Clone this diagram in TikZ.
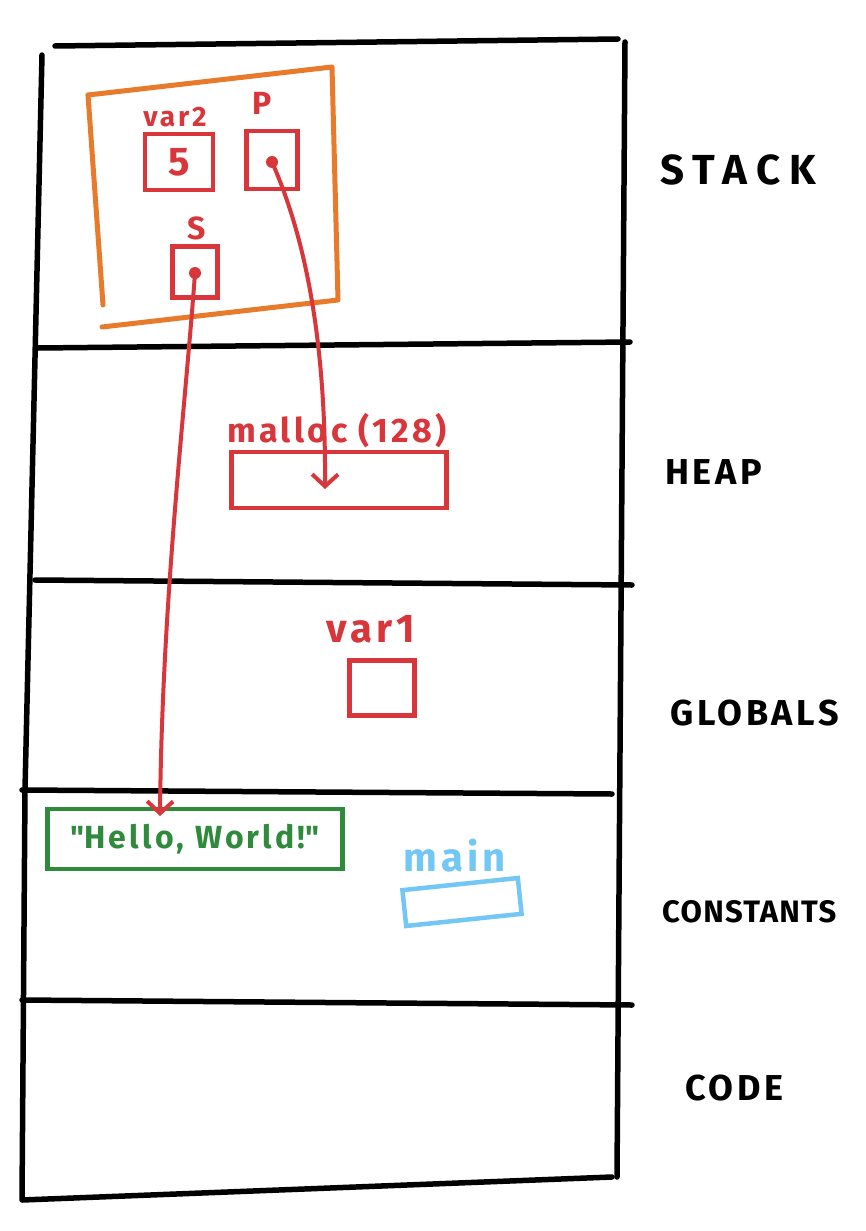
\documentclass[tikz,border=0pt]{standalone}
\usepackage{fontspec}
\setmainfont{Fira Sans}
\newfontfamily\handfont[LetterSpace=10]{Fira Sans}
\newfontfamily\widefont[LetterSpace=22]{Fira Sans}
\newfontfamily\tightfont[LetterSpace=4]{Fira Sans}
\usetikzlibrary{arrows.meta}
\definecolor{inkred}{HTML}{D8363B}
\definecolor{inkorange}{HTML}{E87A2C}
\definecolor{inkgreen}{HTML}{2F8A3C}
\definecolor{inkblue}{HTML}{72C7F4}
\begin{document}
\begin{tikzpicture}[x=1pt,y=-1pt,
  frame/.style={line width=5.5pt,line cap=round,line join=round,black},
  region/.style={anchor=west,inner sep=0pt,font=\handfont\bfseries\fontsize{36}{36}\selectfont},
  cell/.style={draw=inkred,line width=4.5pt,inner sep=0pt},
  redtext/.style={text=inkred,inner sep=0pt},
  hand/.style={font=\handfont\bfseries\fontsize{#1}{#1}\selectfont},
  ptr/.style={draw=inkred,line width=4pt,line cap=round,
    -{Straight Barb[length=12pt,width=26pt,line width=4pt]}},
  ]
\path[use as bounding box] (0,0) rectangle (865,1231);
\fill[white] (0,0) rectangle (865,1231);

% memory layout frame
\draw[frame] (55,46) -- (618,39);
\draw[frame] (625,42) -- (617,1177);
\draw[frame] (42,55) -- (25,790) -- (22,1200) -- (612,1177);
\draw[frame] (38,348) -- (630,342);
\draw[frame] (35,580) -- (632,585);
\draw[frame] (22,790) -- (612,794);
\draw[frame] (22,1000) -- (632,1005);

% segment names
\node[region,font=\widefont\bfseries\fontsize{42}{42}\selectfont] (stack) at (660,170) {STACK};
\node[region] (heap) at (665,472) {HEAP};
\node[region] (globals) at (670,713) {GLOBALS};
\node[region,font=\tightfont\bfseries\fontsize{31}{31}\selectfont] (consts) at (662,912) {CONSTANTS};
\node[region] (code) at (685,1088) {CODE};

% stack frame of the function
\draw[draw=inkorange,line width=5pt,line join=round,line cap=round]
  (88,95) -- (332,67) -- (338,300) -- (102,327);
\draw[draw=inkorange,line width=5pt,line cap=round] (88,95) -- (103,305);

\node[cell,minimum width=68pt,minimum height=56pt,text=inkred,hand=40] (var2) at (179,162) {5};
\node[redtext,hand=28] (var2lbl) at (175,117) {var2};
\node[cell,minimum width=51pt,minimum height=58pt] (p) at (272,160) {};
\node[redtext,hand=32] (plbl) at (262,103) {P};
\node[cell,minimum width=45pt,minimum height=51pt] (s) at (195,272) {};
\node[redtext,hand=32] (slbl) at (197,228) {S};

\coordinate (pdot) at (272,162);
\coordinate (sdot) at (195,273);
\fill[inkred] (pdot) circle (6pt);
\fill[inkred] (sdot) circle (6pt);

% heap block
\node[redtext,hand=34] (malloclbl) at (337,431) {malloc (128)};
\node[cell,minimum width=215pt,minimum height=56pt] (block) at (339,480) {};
\coordinate (pend) at (325,489);

% global variable
\node[redtext,hand=40] (var1lbl) at (371,629) {var1};
\node[cell,minimum width=65pt,minimum height=55pt] (var1) at (382,688) {};

% constants
\node[draw=inkgreen,line width=4.5pt,minimum width=295pt,minimum height=60pt,
  text=inkgreen,hand=32] (hello) at (195,839)
  {\textquotedbl Hello, World!\textquotedbl};
\coordinate (send) at (160,816);
\node[text=inkblue,inner sep=0pt,hand=40] (mainlbl) at (455,856) {main};
\node[draw=inkblue,line width=4.5pt,minimum width=116pt,minimum height=36pt,rotate=6]
  (mainfn) at (462,902) {};

% pointers
\draw[ptr] (pdot) .. controls (302,230) and (326,330) .. (pend);
\draw[ptr] (sdot) .. controls (186,400) and (162,600) .. (send);
\end{tikzpicture}
\end{document}
